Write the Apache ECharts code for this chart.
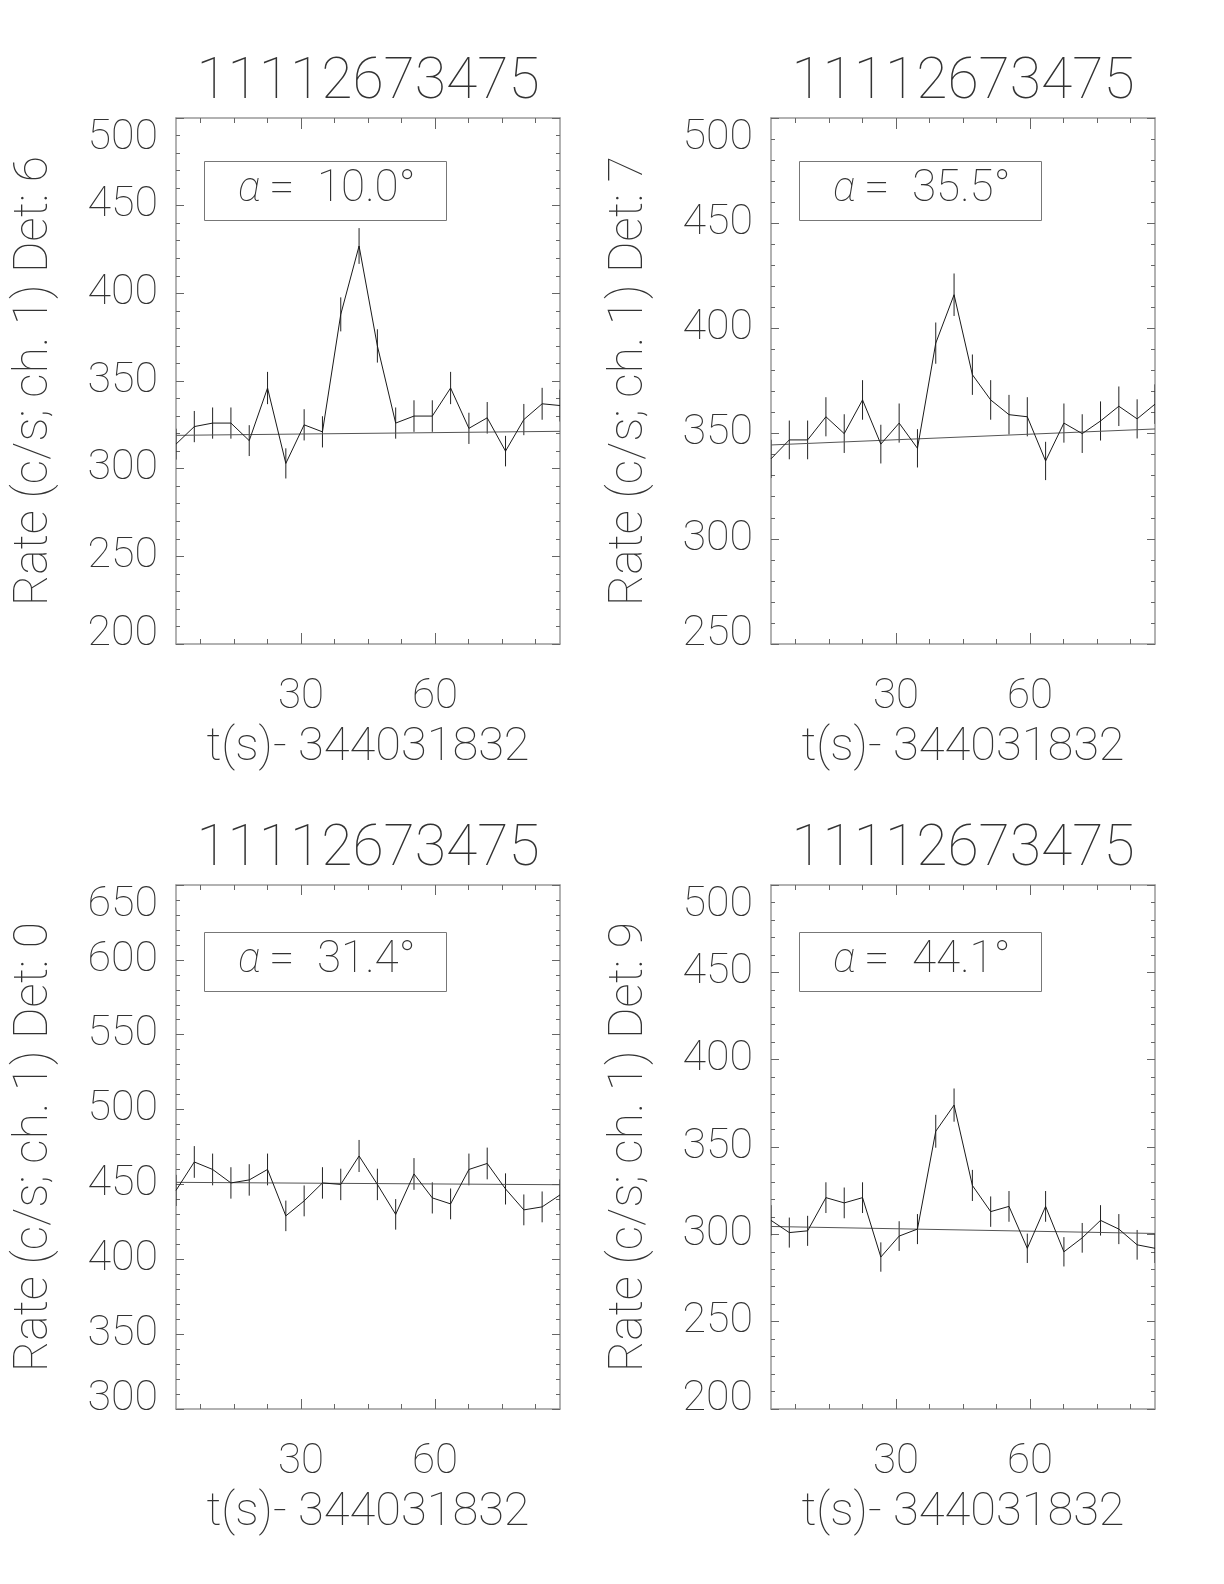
<!DOCTYPE html>
<html>
<head>
<meta charset="utf-8">
<script src="https://cdn.jsdelivr.net/npm/echarts@6/dist/echarts.min.js"></script>
<style>
  html, body { margin: 0; padding: 0; background: #fff; }
  #chart { width: 1224px; height: 1584px; }
</style>
</head>
<body>
<div id="chart"></div>
<script>
// 时间轴 (s, 相对 344031832)
const times = [2.0, 6.1, 10.2, 14.3, 18.4, 22.5, 26.6, 30.7, 34.8, 38.9, 43.0,
               47.1, 51.2, 55.3, 59.4, 63.5, 67.6, 71.7, 75.8, 79.9, 84.0, 88.0];
const timeRange = [2, 88];
const xMinorTicks = [7.5, 15, 22.5, 30, 37.5, 45, 52.5, 60, 67.5, 75, 82.5];
const xMajorTicks = [30, 60];

// 各探测器计数率与误差
const rateDet6 = [314, 324, 326, 326, 316, 346, 303, 325, 321, 388, 427, 370, 326, 330, 330, 346, 323, 329, 310, 328, 337, 336];
const errDet6  = [8.8, 8.9, 8.9, 8.9, 8.8, 9.2, 8.6, 8.9, 8.9, 9.7, 10.2, 9.5, 8.9, 9.0, 9.0, 9.2, 8.9, 9.0, 8.7, 8.9, 9.1, 9.1];
const modelDet6 = [319.0, 321.3];

const rateDet7 = [338, 347, 347, 358, 350, 366, 345, 355, 343, 393, 416, 378, 366, 359, 358, 337, 355, 350, 356, 363, 357, 364];
const errDet7  = [9.1, 9.2, 9.2, 9.3, 9.2, 9.4, 9.2, 9.3, 9.1, 9.8, 10.1, 9.6, 9.4, 9.4, 9.3, 9.1, 9.3, 9.2, 9.3, 9.4, 9.3, 9.4];
const modelDet7 = [344.6, 352.2];

const rateDet0 = [446, 465, 460, 451, 453, 460, 429, 439, 451, 450, 469, 450, 430, 457, 441, 437, 460, 464, 447, 433, 435, 443];
const errDet0  = [10.4, 10.6, 10.6, 10.5, 10.5, 10.6, 10.2, 10.3, 10.5, 10.5, 10.7, 10.5, 10.2, 10.6, 10.4, 10.3, 10.6, 10.6, 10.4, 10.3, 10.3, 10.4];
const modelDet0 = [451.4, 449.8];

const rateDet9 = [308, 301, 302, 321, 318, 321, 287, 299, 303, 359, 374, 328, 313, 316, 292, 316, 290, 298, 308, 303, 294, 292];
const errDet9  = [8.7, 8.6, 8.6, 8.8, 8.8, 8.8, 8.4, 8.5, 8.6, 9.4, 9.5, 8.9, 8.7, 8.8, 8.4, 8.8, 8.4, 8.5, 8.7, 8.6, 8.5, 8.4];
const modelDet9 = [304.5, 300.5];

const plotTitle = '11112673475';
const xName = 't(s)- 344031832';

// 面板定义
const panels = [
  { det: 6, alpha: '10.0', rate: rateDet6, err: errDet6, model: modelDet6, yMin: 200, yMax: 500, left: 176, top: 118, height: 526, boxTop: 159 },
  { det: 7, alpha: '35.5', rate: rateDet7, err: errDet7, model: modelDet7, yMin: 250, yMax: 500, left: 771, top: 118, height: 526, boxTop: 159 },
  { det: 0, alpha: '31.4', rate: rateDet0, err: errDet0, model: modelDet0, yMin: 300, yMax: 650, left: 176, top: 885, height: 524, boxTop: 930 },
  { det: 9, alpha: '44.1', rate: rateDet9, err: errDet9, model: modelDet9, yMin: 200, yMax: 500, left: 771, top: 885, height: 524, boxTop: 930 }
];
const plotWidth = 384;

const FONT = 'Roboto';
const FW = 100;
const TXT = '#333';
const AX = '#999';
const TICK = '#666';

const chart = echarts.init(document.getElementById('chart'));

const grids = [], xAxes = [], yAxes = [], series = [], graphics = [];

// 误差棒
const renderErr = (params, api) => {
  const t = api.value(0), v = api.value(1), e = api.value(2);
  const p1 = api.coord([t, v - e]);
  const p2 = api.coord([t, v + e]);
  return {
    type: 'line',
    shape: { x1: p1[0], y1: p1[1], x2: p2[0], y2: p2[1] },
    style: { stroke: '#222', lineWidth: 1 }
  };
};

panels.forEach((p, i) => {
  grids.push({ left: p.left, top: p.top, width: plotWidth, height: p.height, containLabel: false });

  const xBase = {
    type: 'value', gridIndex: i, min: timeRange[0], max: timeRange[1],
    splitLine: { show: false }, axisLabel: { show: false },
    axisLine: { show: false }
  };
  const tickLong = Math.round(p.height * 0.02);
  // 底部: 次刻度 + 标签 + 名称
  xAxes.push(Object.assign({}, xBase, {
    position: 'bottom',
    axisLine: { show: true, lineStyle: { color: AX, width: 1.5 } },
    axisTick: { show: true, inside: true, length: 5, customValues: xMinorTicks, lineStyle: { color: TICK } },
    axisLabel: { show: true, customValues: xMajorTicks, margin: 32, color: TXT, fontFamily: FONT, fontWeight: FW, fontSize: 42, lineHeight: 42 },
    name: xName, nameLocation: 'middle', nameGap: 81,
    nameTextStyle: { color: TXT, fontFamily: FONT, fontWeight: FW, fontSize: 47, lineHeight: 46 }
  }));
  // 底部: 主刻度
  xAxes.push(Object.assign({}, xBase, {
    position: 'bottom',
    axisTick: { show: true, inside: true, length: tickLong, customValues: xMajorTicks, lineStyle: { color: TICK } }
  }));
  // 顶部: 次刻度 + 标题
  xAxes.push(Object.assign({}, xBase, {
    position: 'top',
    axisLine: { show: true, lineStyle: { color: AX, width: 1.5 } },
    axisTick: { show: true, inside: true, length: 5, customValues: xMinorTicks, lineStyle: { color: TICK } },
    name: plotTitle, nameLocation: 'middle', nameGap: 6,
    nameTextStyle: { color: TXT, fontFamily: FONT, fontWeight: FW, fontSize: 57, lineHeight: 56 }
  }));
  // 顶部: 主刻度
  xAxes.push(Object.assign({}, xBase, {
    position: 'top',
    axisTick: { show: true, inside: true, length: tickLong, customValues: xMajorTicks, lineStyle: { color: TICK } }
  }));

  const yBase = {
    type: 'value', gridIndex: i, min: p.yMin, max: p.yMax, interval: 50,
    splitLine: { show: false },
    axisLine: { show: true, lineStyle: { color: AX, width: 1.5 } },
    axisTick: { show: true, inside: true, length: 8, lineStyle: { color: TICK } },
    minorTick: { show: true, splitNumber: 5, length: 4, lineStyle: { color: TICK } }
  };
  yAxes.push(Object.assign({}, yBase, {
    position: 'left',
    axisLabel: {
      color: TXT, fontFamily: FONT, fontWeight: FW, fontSize: 43, lineHeight: 40, margin: 18,
      padding: [0, 0, -10, 0],
      verticalAlignMinLabel: 'bottom', verticalAlignMaxLabel: 'top'
    },
    name: 'Rate (c/s; ch. 1) Det: ' + p.det, nameLocation: 'middle', nameGap: 117,
    nameTextStyle: { color: TXT, fontFamily: FONT, fontWeight: FW, fontSize: 48, lineHeight: 48 }
  }));
  yAxes.push(Object.assign({}, yBase, {
    position: 'right', axisLabel: { show: false }
  }));

  series.push({
    type: 'custom', xAxisIndex: 4 * i, yAxisIndex: 2 * i, clip: true,
    renderItem: renderErr, encode: { x: 0, y: 1 },
    data: times.map((t, k) => [t, p.rate[k], p.err[k]]),
    z: 2, silent: true
  });
  series.push({
    type: 'line', xAxisIndex: 4 * i, yAxisIndex: 2 * i,
    data: times.map((t, k) => [t, p.rate[k]]),
    symbol: 'none', lineStyle: { color: '#1a1a1a', width: 1 }, z: 3, silent: true
  });
  series.push({
    type: 'line', xAxisIndex: 4 * i, yAxisIndex: 2 * i,
    data: [[timeRange[0], p.model[0]], [timeRange[1], p.model[1]]],
    symbol: 'none', lineStyle: { color: '#555', width: 1 }, z: 2, silent: true
  });

  // α 标注框
  graphics.push({
    type: 'rect', left: p.left + 26, top: p.boxTop,
    shape: { width: 242, height: 59 },
    style: { fill: 'none', stroke: '#777', lineWidth: 1 }
  });
  graphics.push({
    type: 'text', left: p.left + 62, top: p.boxTop + 8,
    style: {
      text: '{a|α}{e|=}{v|' + p.alpha + '°}',
      fill: TXT, fontFamily: FONT, fontWeight: FW, fontSize: 42, lineHeight: 44,
      rich: {
        a: { fontStyle: 'italic', fontFamily: FONT, fontWeight: FW, fontSize: 42, lineHeight: 44, width: 31, fill: TXT },
        e: { fontFamily: FONT, fontWeight: FW, fontSize: 46, lineHeight: 44, width: 48, fill: TXT },
        v: { fontFamily: FONT, fontWeight: FW, fontSize: 44, lineHeight: 44, fill: TXT }
      }
    }
  });
});

chart.setOption({
  animation: false,
  backgroundColor: '#fff',
  grid: grids,
  xAxis: xAxes,
  yAxis: yAxes,
  series: series,
  graphic: { elements: graphics }
});
</script>
</body>
</html>
